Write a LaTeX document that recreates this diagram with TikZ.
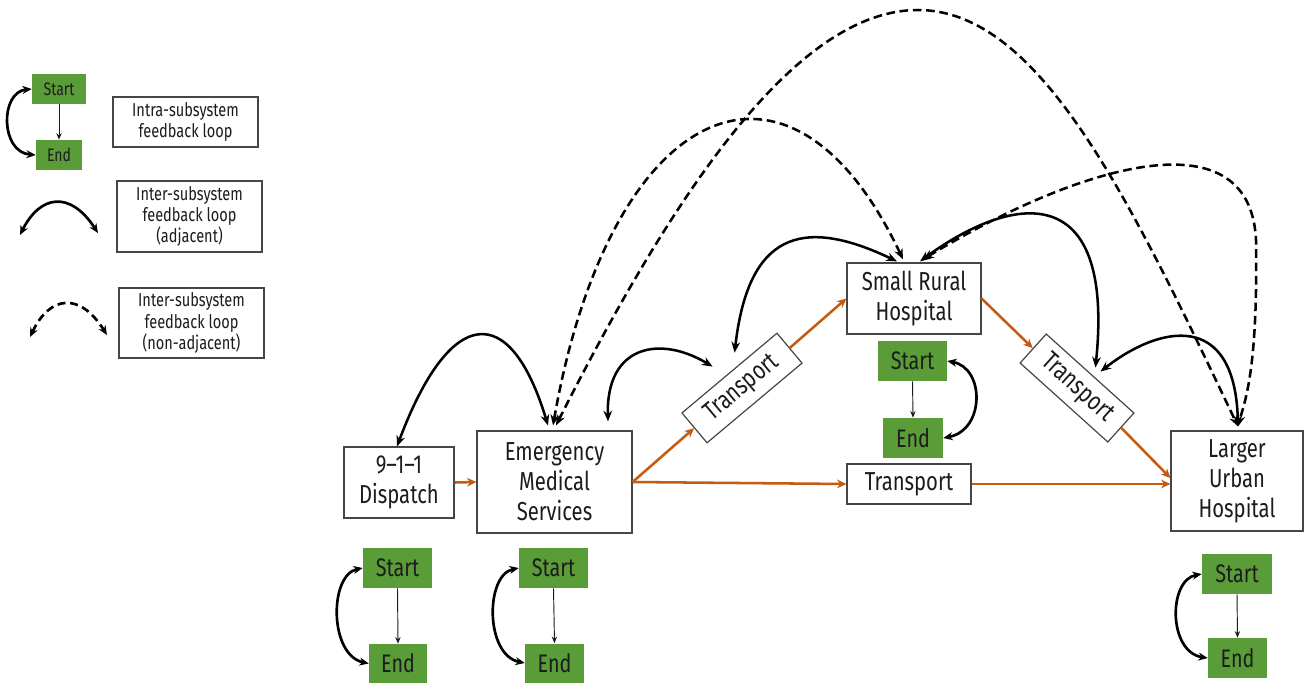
\documentclass[tikz,border=0pt]{standalone}
\usepackage{fontspec}
\setmainfont{Fira Sans}[FakeStretch=0.78]
\usetikzlibrary{arrows.meta,calc}
\definecolor{grn}{RGB}{90,156,56}
\definecolor{org}{RGB}{197,90,17}
\definecolor{ink}{RGB}{28,28,28}
\definecolor{edge}{RGB}{70,70,70}
\tikzset{
  box/.style={draw=edge, line width=0.9pt, fill=white, text=ink, align=center, inner sep=0pt,
    font=\fontsize{19.5}{22.5}\selectfont},
  lbox/.style={box, font=\fontsize{14}{15.8}\selectfont},
  gbox/.style={fill=grn, text=ink, inner sep=0pt, font=\fontsize{19}{22}\selectfont},
  lgbox/.style={gbox, font=\fontsize{13.5}{15}\selectfont},
  fb/.style={line width=1.9pt, {Stealth[length=8pt,width=6.5pt]}-{Stealth[length=8pt,width=6.5pt]}},
  fbd/.style={fb, dash pattern=on 6.5pt off 3.5pt},
  lp/.style={line width=2pt, {Stealth[length=7pt,width=6pt]}-{Stealth[length=7pt,width=6pt]}},
  orn/.style={draw=org, line width=1.9pt, -{Stealth[length=7pt,width=6.5pt]}},
  thinarr/.style={draw=ink, line width=0.7pt, -{Stealth[length=5pt,width=4pt]}}
}
\begin{document}
\begin{tikzpicture}[x=0.75pt,y=0.75pt]
\useasboundingbox (0,0) rectangle (1306,-683);
\fill[white] (0,0) rectangle (1306,-683);

% ---------- legend ----------
\node[lgbox, minimum width=40.5pt, minimum height=22.5pt] (ls) at (59,-89) {Start};
\node[lgbox, minimum width=34.5pt, minimum height=22.5pt] (le) at (59,-155) {End};
\draw[thinarr] (ls.south) -- (le.north);
\draw[lp] (ls.west) .. controls (0,-92) and (0,-152) .. (le.west);
\node[lbox, minimum width=108.75pt, minimum height=37.5pt] (l1) at (185.5,-122) {Intra-subsystem\\feedback loop};
\node[lbox, minimum width=108.75pt, minimum height=53.25pt] (l2) at (189.5,-216.5) {Inter-subsystem\\feedback loop\\(adjacent)};
\node[lbox, minimum width=108.75pt, minimum height=52.5pt] (l3) at (191.5,-323) {Inter-subsystem\\feedback loop\\(non-adjacent)};
\coordinate (la1) at (20,-235);
\coordinate (la2) at (98,-233);
\draw[lp] (la1) .. controls (40,-195) and (70,-190) .. (la2);
\coordinate (lb1) at (30,-337);
\coordinate (lb2) at (107,-335);
\draw[lp, dash pattern=on 6pt off 3.5pt] (lb1) .. controls (50,-295) and (80,-292) .. (lb2);

% ---------- main boxes ----------
\node[box, minimum width=82.5pt, minimum height=53.25pt] (disp) at (399,-482.5) {9–1–1\\Dispatch};
\node[box, minimum width=116.25pt, minimum height=76.5pt] (ems) at (554.5,-482) {Emergency\\Medical\\Services};
\node[box, minimum width=100.5pt, minimum height=53.25pt] (srh) at (914,-298.5) {Small Rural\\Hospital};
\node[box, minimum width=93pt, minimum height=30pt] (tb) at (909,-484) {Transport};
\node[box, minimum width=99pt, minimum height=75pt] (luh) at (1237,-481) {Larger\\Urban\\Hospital};
\node[box, rotate=40, minimum width=93pt, minimum height=29.25pt] (tl) at (742,-388) {Transport};
\node[box, rotate=-42, minimum width=88.5pt, minimum height=29.25pt] (tr) at (1077,-388) {Transport};

% ---------- start / end boxes ----------
\node[gbox, minimum width=51.75pt, minimum height=30pt] (s1) at (397.5,-568) {Start};
\node[gbox, minimum width=43.5pt, minimum height=29.25pt] (e1) at (398,-663.5) {End};
\node[gbox, minimum width=51.75pt, minimum height=30pt] (s2) at (553.5,-568) {Start};
\node[gbox, minimum width=44.25pt, minimum height=29.25pt] (e2) at (554.5,-663) {End};
\node[gbox, minimum width=51.75pt, minimum height=30pt] (s3) at (912.5,-361) {Start};
\node[gbox, minimum width=45pt, minimum height=30pt] (e3) at (913,-438) {End};
\node[gbox, minimum width=52.5pt, minimum height=30pt] (s4) at (1237,-574) {Start};
\node[gbox, minimum width=44.25pt, minimum height=30pt] (e4) at (1237.5,-658) {End};

\draw[thinarr] (s1.south) -- (e1.north);
\draw[thinarr] (s2.south) -- (e2.north);
\draw[thinarr] (s3.south) -- (e3.north);
\draw[thinarr] (s4.south) -- (e4.north);
\draw[lp] (s1.west) .. controls (329,-575) and (329,-655) .. (e1.west);
\draw[lp] (s2.west) .. controls (485,-575) and (485,-655) .. (e2.west);
\draw[lp] (s3.east) .. controls (985,-368) and (985,-430) .. (e3.east);
\draw[lp] (s4.west) .. controls (1168,-580) and (1168,-652) .. (e4.west);

% ---------- orange flow ----------
\draw[orn] (disp.east) -- (ems.west);
\draw[orn] (ems.east) -- (tl.west);
\draw[orn] (tl.east) -- (srh.west);
\draw[orn] (srh.east) -- (tr.west);
\draw[orn] (tr.east) -- ($(luh.west)+(0,3)$);
\draw[orn] (ems.east) -- (tb.west);
\draw[orn] (tb.east) -- ($(luh.west)+(0,-3)$);

% ---------- adjacent feedback (solid) ----------
\draw[fb] ($(disp.north)+(-2,0)$) .. controls (450,-305) and (510,-300) .. ($(ems.north)+(-6.5,5)$);
\draw[fb] ($(ems.north)+(53.5,9)$) .. controls (606,-345) and (660,-335) .. ($(tl.north)+(-16.5,6)$);
\draw[fb] ($(tl.north)+(5.5,20)$) .. controls (748,-235) and (800,-215) .. ($(srh.north)+(-17,1)$);
\draw[fb] ($(srh.north)+(6,1)$) .. controls (1010,-195) and (1115,-175) .. ($(tr.north)+(5,5.5)$);
\draw[fb] ($(tr.north)+(10,1.5)$) .. controls (1160,-325) and (1235,-310) .. ($(luh.north)+(1,4)$);

% ---------- non-adjacent feedback (dashed) ----------
\draw[fbd] ($(ems.north)+(-1.5,5)$) .. controls (610,-100) and (790,-20) .. ($(srh.north)+(-11,3)$);
\draw[fbd] ($(ems.north)+(1.5,5)$) .. controls (680,-180) and (800,-10) .. (918,-10)
   .. controls (1040,-10) and (1130,-200) .. ($(luh.north)+(1,4)$);
\draw[fbd] ($(srh.north)+(9,3)$) .. controls (1070,-170) and (1250,-110) .. (1256,-240)
   .. controls (1258,-370) and (1245,-400) .. ($(luh.north)+(1,4)$);
\end{tikzpicture}
\end{document}
